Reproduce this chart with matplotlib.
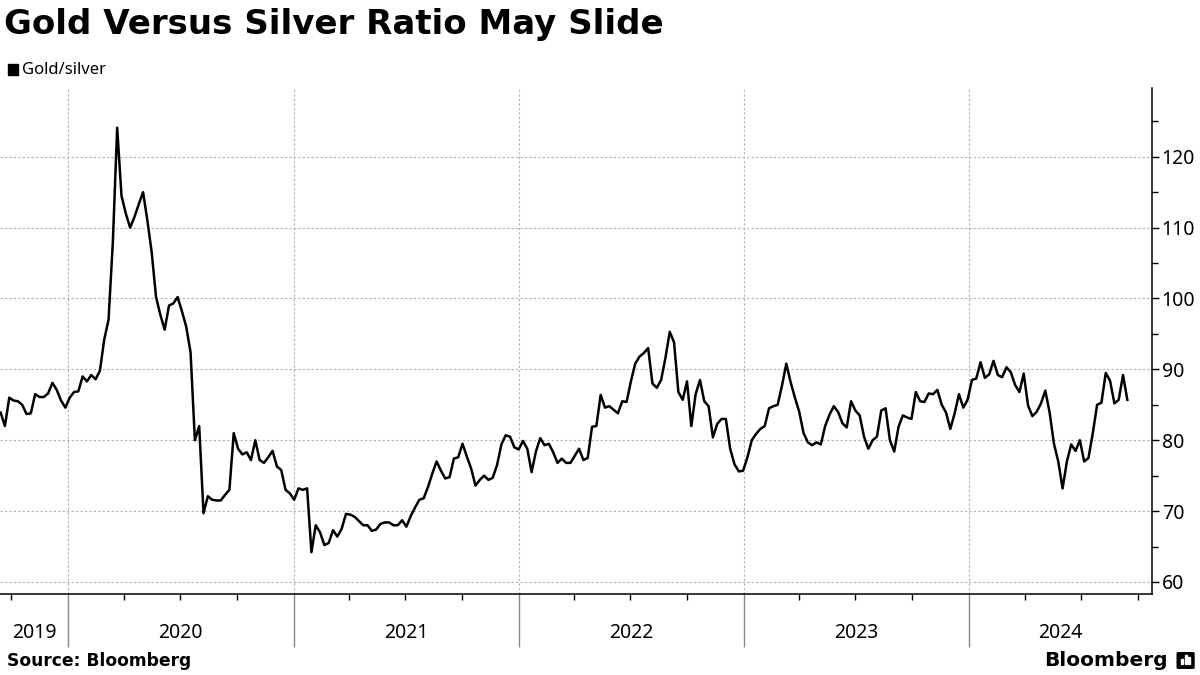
import numpy as np
import pandas as pd
import matplotlib
matplotlib.use("Agg")
import matplotlib.pyplot as plt
import matplotlib.dates as mdates
import matplotlib.transforms as mtransforms
from matplotlib.patches import Rectangle, FancyBboxPatch

plt.rcParams['font.family'] = ['Noto Sans', 'DejaVu Sans']

# Ratio oro/plata, valores semanales (sep 2019 - sep 2024)
start_date = '2019-09-14'
ratio = [
    83.9, 82.0, 86.0, 85.6, 85.5, 85.0, 83.7, 83.8, 86.5, 86.1,
    86.1, 86.6, 88.1, 87.1, 85.6, 84.6, 86.0, 86.8, 86.9, 89.0,
    88.3, 89.2, 88.6, 89.8, 94.2, 97.0, 108.0, 124.1, 114.5, 112.0,
    110.0, 111.5, 113.3, 115.0, 111.0, 106.5, 100.2, 97.7, 95.6, 99.0,
    99.3, 100.2, 98.2, 96.0, 92.4, 80.0, 82.0, 69.7, 72.1, 71.6,
    71.5, 71.5, 72.3, 73.0, 81.0, 78.8, 78.0, 78.3, 77.2, 80.0,
    77.2, 76.8, 77.6, 78.5, 76.3, 75.8, 73.0, 72.5, 71.6, 73.2,
    73.0, 73.2, 64.2, 68.0, 67.0, 65.2, 65.5, 67.3, 66.4, 67.5,
    69.6, 69.5, 69.2, 68.6, 68.0, 68.0, 67.2, 67.4, 68.2, 68.4,
    68.4, 68.0, 68.0, 68.7, 67.8, 69.3, 70.5, 71.6, 71.8, 73.4,
    75.3, 77.0, 75.7, 74.6, 74.8, 77.4, 77.6, 79.5, 77.7, 76.0,
    73.6, 74.4, 75.0, 74.4, 74.7, 76.5, 79.4, 80.7, 80.5, 79.0,
    78.7, 79.9, 78.8, 75.5, 78.4, 80.3, 79.3, 79.5, 78.3, 76.8,
    77.4, 76.8, 76.8, 77.8, 78.8, 77.2, 77.5, 81.9, 82.0, 86.4,
    84.6, 84.8, 84.3, 83.8, 85.5, 85.4, 88.3, 90.8, 91.8, 92.3,
    93.0, 88.0, 87.4, 88.5, 91.6, 95.3, 93.8, 86.8, 85.7, 88.3,
    82.0, 86.5, 88.5, 85.5, 84.8, 80.4, 82.3, 83.0, 83.0, 78.8,
    76.6, 75.6, 75.7, 77.6, 80.0, 80.9, 81.6, 82.0, 84.5, 84.8,
    85.0, 87.7, 90.8, 88.2, 86.0, 84.0, 81.0, 79.7, 79.3, 79.7,
    79.4, 82.0, 83.6, 84.8, 84.0, 82.4, 81.8, 85.5, 84.2, 83.5,
    80.5, 78.8, 80.0, 80.5, 84.2, 84.5, 80.0, 78.4, 81.9, 83.5,
    83.2, 83.0, 86.8, 85.5, 85.4, 86.6, 86.5, 87.1, 85.0, 83.9,
    81.6, 83.8, 86.5, 84.6, 85.7, 88.5, 88.7, 91.0, 88.8, 89.3,
    91.2, 89.2, 88.9, 90.3, 89.6, 87.8, 86.8, 89.4, 84.9, 83.4,
    84.0, 85.2, 87.0, 83.9, 79.5, 77.0, 73.2, 77.0, 79.4, 78.5,
    80.0, 77.0, 77.5, 81.0, 85.0, 85.3, 89.5, 88.4, 85.2, 85.7,
    89.2, 85.7,
]
dates = pd.date_range(start_date, periods=len(ratio), freq='7D')

years = [2019, 2020, 2021, 2022, 2023, 2024]
y_ticks = [60, 70, 80, 90, 100, 110, 120]

x_min = pd.Timestamp('2019-09-13')
x_max = pd.Timestamp('2024-10-24')

fig = plt.figure(figsize=(12, 6.75), dpi=100)
ax = fig.add_axes([0.0, 0.12, 0.96, 0.7496])

ax.plot(dates, ratio, color='black', lw=1.8)

ax.set_xlim(x_min, x_max)
ax.set_ylim(58.3, 129.7)

# eje y a la derecha
ax.yaxis.tick_right()
ax.set_yticks(y_ticks)
ax.set_yticks(np.arange(65, 130, 10), minor=True)
ax.tick_params(axis='y', which='major', length=5, width=1, labelsize=14, pad=2)
ax.tick_params(axis='y', which='minor', length=4, width=1)
for sp in ['top', 'left']:
    ax.spines[sp].set_visible(False)
ax.spines['right'].set_linewidth(1.1)
ax.spines['bottom'].set_linewidth(1.1)

# eje x: lineas de año largas, trimestres cortos
year_starts = [pd.Timestamp(f'{y}-01-01') for y in years[1:]]
ax.set_xticks(year_starts)
ax.set_xticklabels([])
ax.xaxis.set_minor_locator(mdates.MonthLocator(bymonth=[4, 7, 10]))
ax.tick_params(axis='x', which='major', length=38, width=1, color='#888888')
ax.tick_params(axis='x', which='minor', length=4, width=1, color='black')

ax.grid(axis='both', which='major', linestyle=(0, (2, 2)), color='#b0b0b0', lw=0.8)
ax.set_axisbelow(True)

# etiquetas de año centradas en cada tramo
trans = mtransforms.blended_transform_factory(ax.transData, ax.transAxes)
for y in years:
    a = max(pd.Timestamp(f'{y}-01-01'), x_min)
    b = min(pd.Timestamp(f'{y + 1}-01-01'), x_max)
    mid = a + (b - a) / 2
    ax.text(mid, -0.078, str(y), transform=trans, ha='center', va='center', fontsize=14)

fig.text(0.003, 0.988, 'Gold Versus Silver Ratio May Slide', fontsize=24.5,
         fontweight='bold', family='DejaVu Sans', va='top', ha='left')
fig.patches.append(Rectangle((0.0067, 0.889), 0.0085, 0.0165, transform=fig.transFigure,
                             color='black'))
fig.text(0.018, 0.897, 'Gold/silver', fontsize=12, va='center', ha='left')

fig.text(0.006, 0.0207, 'Source: Bloomberg', fontsize=12.3, fontweight='bold',
         family='DejaVu Sans', va='center', ha='left')
fig.text(0.973, 0.022, 'Bloomberg', fontsize=14.5, fontweight='bold',
         family='DejaVu Sans', va='center', ha='right')
fig.patches.append(FancyBboxPatch((0.982, 0.011), 0.012, 0.021, transform=fig.transFigure,
                                  boxstyle='round,pad=0.001', color='black'))
for i, h in enumerate([0.008, 0.013, 0.010]):
    fig.patches.append(Rectangle((0.9845 + i * 0.0028, 0.016), 0.0015, h,
                                 transform=fig.transFigure, color='white'))

fig.savefig('out.png', dpi=100)
